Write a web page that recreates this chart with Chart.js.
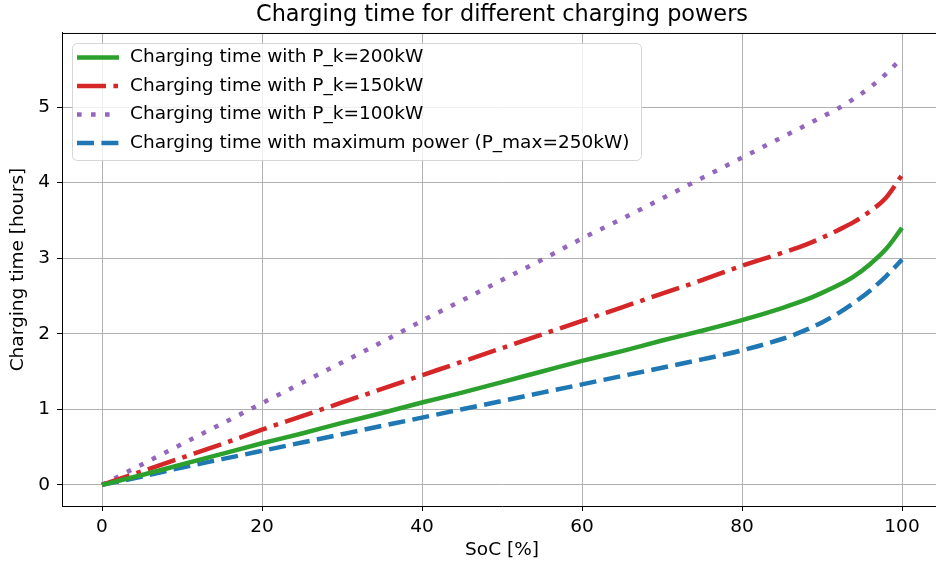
<!DOCTYPE html>
<html>
<head>
<meta charset="utf-8">
<script src="https://cdn.jsdelivr.net/npm/chart.js@4/dist/chart.umd.min.js"></script>
<style>
    html, body { margin: 0; padding: 0; background: #fff; overflow: hidden; }
    #chart { display: block; }
</style>
</head>
<body>
<canvas id="chart" width="944" height="570"></canvas>
<script>
/** Charging time vs SoC */
const socValues = [0, 5, 10, 15, 20, 25, 30, 35, 40, 45, 50, 55, 60, 65, 70, 75, 80, 85, 88, 90, 92, 94, 96, 98, 100];
const time200kW = [0, 0.13, 0.27, 0.41, 0.55, 0.68, 0.82, 0.95, 1.09, 1.22, 1.36, 1.50, 1.64, 1.77, 1.91, 2.04, 2.18, 2.34, 2.45, 2.54, 2.64, 2.76, 2.92, 3.12, 3.40];
const time150kW = [0, 0.18, 0.36, 0.54, 0.73, 0.91, 1.09, 1.27, 1.45, 1.63, 1.81, 1.99, 2.17, 2.35, 2.53, 2.71, 2.90, 3.07, 3.18, 3.27, 3.37, 3.48, 3.62, 3.80, 4.10];
const time100kW = [0, 0.27, 0.54, 0.81, 1.08, 1.35, 1.62, 1.89, 2.17, 2.44, 2.71, 2.98, 3.26, 3.52, 3.79, 4.06, 4.33, 4.60, 4.76, 4.87, 4.98, 5.11, 5.26, 5.44, 5.65];
const timeMax250kW = [0, 0.11, 0.23, 0.34, 0.45, 0.56, 0.67, 0.78, 0.89, 1.00, 1.11, 1.22, 1.33, 1.44, 1.55, 1.66, 1.78, 1.93, 2.05, 2.15, 2.27, 2.41, 2.57, 2.76, 2.98];

const seriesLabels = [
    'Charging time with P_k=200kW',
    'Charging time with P_k=150kW',
    'Charging time with P_k=100kW',
    'Charging time with maximum power (P_max=250kW)'
];
const xTicks = [0, 20, 40, 60, 80, 100];
const yTicks = [0, 1, 2, 3, 4, 5];

const FONT = "'DejaVu Sans', sans-serif";
const FS = 18.5;
const LW = 4.5;

function toPoints(values) {
    return socValues.map((s, i) => ({ x: s, y: values[i] }));
}

// matplotlib-like legend drawn inside the plot area
const innerLegend = {
    id: 'innerLegend',
    afterDraw(chart) {
        const ctx = chart.ctx;
        const x0 = 72, y0 = 43, w = 569, h = 117, r = 5;
        ctx.save();
        ctx.beginPath();
        ctx.roundRect(x0 + 0.5, y0 + 0.5, w, h, r);
        ctx.fillStyle = 'rgba(255,255,255,0.8)';
        ctx.fill();
        ctx.strokeStyle = 'rgba(204,204,204,0.8)';
        ctx.lineWidth = 1;
        ctx.stroke();

        chart.data.datasets.forEach((ds, i) => {
            const cy = 57.5 + i * 28.5;
            ctx.beginPath();
            ctx.setLineDash(ds.borderDash || []);
            ctx.lineDashOffset = 0;
            ctx.strokeStyle = ds.borderColor;
            ctx.lineWidth = ds.borderWidth;
            ctx.lineCap = 'butt';
            ctx.moveTo(77, cy);
            ctx.lineTo(119, cy);
            ctx.stroke();

            ctx.setLineDash([]);
            ctx.fillStyle = '#000';
            ctx.font = FS + 'px ' + FONT;
            ctx.textBaseline = 'middle';
            ctx.textAlign = 'left';
            ctx.fillText(ds.label, 130, cy);
        });
        ctx.restore();
    }
};

// top and right spines
const frame = {
    id: 'frame',
    beforeDatasetsDraw(chart) {
        const { left, top, right, bottom } = chart.chartArea;
        const ctx = chart.ctx;
        ctx.save();
        ctx.strokeStyle = '#000';
        ctx.lineWidth = 1;
        ctx.beginPath();
        ctx.moveTo(left, top + 0.5);
        ctx.lineTo(right, top + 0.5);
        ctx.moveTo(right - 0.5, top);
        ctx.lineTo(right - 0.5, bottom);
        ctx.stroke();
        ctx.restore();
    }
};

const ctx = document.getElementById('chart').getContext('2d');
new Chart(ctx, {
    type: 'line',
    data: {
        datasets: [
            {
                label: seriesLabels[0],
                data: toPoints(time200kW),
                borderColor: '#2ca02c',
                borderWidth: LW
            },
            {
                label: seriesLabels[1],
                data: toPoints(time150kW),
                borderColor: '#d62728',
                borderWidth: LW,
                borderDash: [29, 7.4, 4.6, 7.4]
            },
            {
                label: seriesLabels[2],
                data: toPoints(time100kW),
                borderColor: '#9467bd',
                borderWidth: LW,
                borderDash: [4.6, 9.4]
            },
            {
                label: seriesLabels[3],
                data: toPoints(timeMax250kW),
                borderColor: '#1f77b4',
                borderWidth: LW,
                borderDash: [17, 7.4]
            }
        ]
    },
    options: {
        responsive: false,
        animation: false,
        events: [],
        layout: { padding: { left: 0, right: 2, top: 0, bottom: 0 } },
        elements: {
            point: { radius: 0 },
            line: { cubicInterpolationMode: 'monotone', fill: false, borderCapStyle: 'butt' }
        },
        scales: {
            x: {
                type: 'linear',
                min: -5,
                max: 105,
                afterBuildTicks: axis => { axis.ticks = xTicks.map(v => ({ value: v })); },
                afterFit: scale => { scale.height = 64; },
                grid: { color: '#b0b0b0', lineWidth: 1, tickColor: '#000', tickLength: 5, tickWidth: 1 },
                border: { display: true, color: '#000', width: 1 },
                ticks: { color: '#000', font: { family: FONT, size: FS }, padding: 5, maxRotation: 0 },
                title: { display: true, text: 'SoC [%]', color: '#000', font: { family: FONT, size: FS }, padding: { top: 0, bottom: 9 } }
            },
            y: {
                type: 'linear',
                min: -0.28,
                max: 5.98,
                afterBuildTicks: axis => { axis.ticks = yTicks.map(v => ({ value: v })); },
                afterFit: scale => { scale.width = 62; },
                grid: { color: '#b0b0b0', lineWidth: 1, tickColor: '#000', tickLength: 5, tickWidth: 1 },
                border: { display: true, color: '#000', width: 1 },
                ticks: { color: '#000', font: { family: FONT, size: FS }, padding: 7 },
                title: { display: true, text: 'Charging time [hours]', color: '#000', font: { family: FONT, size: FS }, padding: { top: 7, bottom: 0 } }
            }
        },
        plugins: {
            legend: { display: false },
            tooltip: { enabled: false },
            title: {
                display: true,
                fullSize: false,
                text: 'Charging time for different charging powers',
                color: '#000',
                font: { family: FONT, size: 22.4, weight: 'normal' },
                padding: { top: 1.6, bottom: 4.5 }
            }
        }
    },
    plugins: [frame, innerLegend]
});
</script>
</body>
</html>
